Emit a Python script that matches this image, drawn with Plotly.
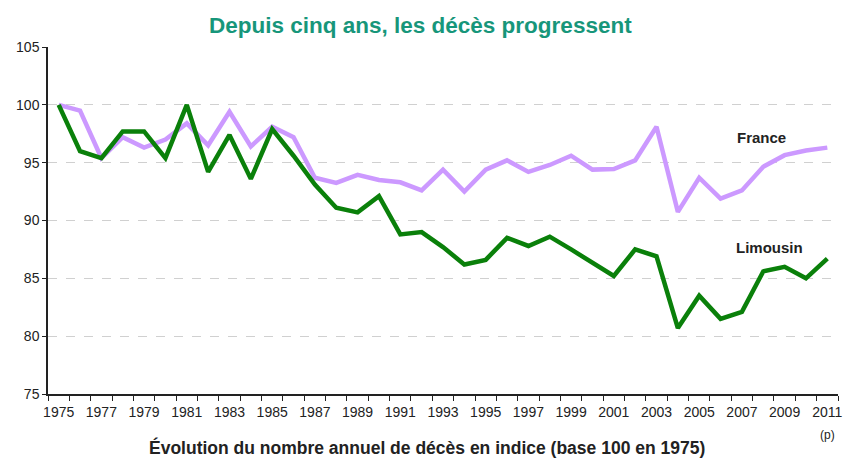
import plotly.graph_objects as go

years = list(range(1975, 2012))
limousin = [100, 96.0, 95.4, 97.7, 97.7, 95.4, 100, 94.2, 97.4, 93.6, 97.9, 95.6,
            93.1, 91.1, 90.7, 92.1, 88.8, 89.0, 87.7, 86.2, 86.6, 88.5, 87.8, 88.6,
            87.5, 86.3, 85.2, 87.5, 86.9, 80.7, 83.5, 81.5, 82.1, 85.6, 86.0, 85.0, 86.7]
france = [100, 99.5, 95.4, 97.2, 96.3, 97.0, 98.4, 96.5, 99.4, 96.4, 98.1, 97.2,
          93.7, 93.25, 93.95, 93.5, 93.3, 92.6, 94.4, 92.5, 94.4, 95.2, 94.2, 94.8,
          95.6, 94.4, 94.45, 95.2, 98.1, 90.75, 93.7, 91.9, 92.6, 94.65, 95.65, 96.05, 96.3]
x_labels = [str(y) for y in range(1975, 2012, 2)]
y_ticks = [75, 80, 85, 90, 95, 100, 105]

fig = go.Figure()
fig.add_trace(go.Scatter(x=years, y=france, mode="lines", name="France",
                         line=dict(color="#cc99ff", width=4.5)))
fig.add_trace(go.Scatter(x=years, y=limousin, mode="lines", name="Limousin",
                         line=dict(color="#0a800a", width=4.5)))

font = "Liberation Sans, Arial, sans-serif"
fig.update_layout(
    width=845, height=459,
    margin=dict(l=48, r=7, t=47, b=65),
    plot_bgcolor="white", paper_bgcolor="white",
    showlegend=False,
    font=dict(family=font, size=11, color="#222222"),
    xaxis=dict(range=[1974.5, 2011.5], tickmode="array", automargin=False,
               tickvals=[int(v) for v in x_labels], ticktext=x_labels,
               ticks="", showgrid=False, zeroline=False, ticklabelstandoff=4,
               showline=True, linecolor="#222222", linewidth=1.5,
               tickfont=dict(size=14, color="#222222"),
               minor=dict(tick0=1974.5, dtick=1, ticks="outside", ticklen=5,
                          tickcolor="#222222", tickwidth=1, showgrid=False)),
    yaxis=dict(range=[75, 105], tickmode="array", tickvals=y_ticks, automargin=False,
               ticks="outside", ticklen=4, tickcolor="#222222",
               showline=True, linecolor="#222222", linewidth=1.5,
               showgrid=True, gridcolor="#d0d0d0", griddash="dash", gridwidth=1,
               zeroline=False, tickfont=dict(size=14, color="#222222")),
)

fig.add_annotation(x=0.472, y=1 + 22 / 347, xref="paper", yref="paper", yanchor="middle",
                   text="<b>Depuis cinq ans, les décès progressent</b>", showarrow=False,
                   font=dict(family=font, size=22.5, color="#17967a"))
fig.add_annotation(x=2007.9, y=97.2, text="<b>France</b>", showarrow=False,
                   font=dict(family=font, size=15, color="#222222"))
fig.add_annotation(x=2008.3, y=87.7, text="<b>Limousin</b>", showarrow=False,
                   font=dict(family=font, size=15, color="#222222"))
fig.add_annotation(x=2011, y=-41 / 347, xref="x", yref="paper", yanchor="middle",
                   text="(p)", showarrow=False,
                   font=dict(family=font, size=12, color="#222222"))
fig.add_annotation(x=0.48, y=-53 / 347, xref="paper", yref="paper", yanchor="middle",
                   text="<b>Évolution du nombre annuel de décès en indice (base 100 en 1975)</b>",
                   showarrow=False, font=dict(family=font, size=17.5, color="#222222"))

fig.write_html("out.html", config={"displayModeBar": False},
               post_script="document.body.style.margin='0';document.body.style.overflow='hidden';")
